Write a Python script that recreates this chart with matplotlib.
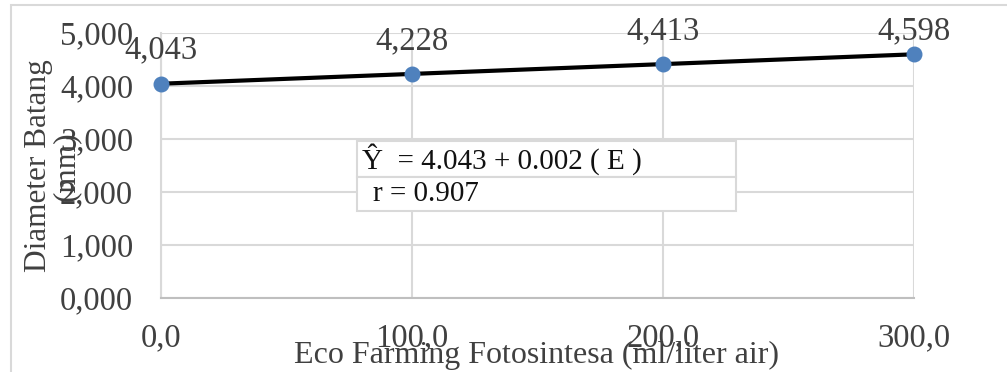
import matplotlib
matplotlib.use("Agg")
import matplotlib.pyplot as plt
from matplotlib.patches import Rectangle

# data
dose = [0, 100, 200, 300]
diameter = [4.043, 4.228, 4.413, 4.598]
y_ticks = [0, 1, 2, 3, 4, 5]
y_tick_labels = ["0,000", "1,000", "2,000", "3,000", "4,000", "5,000"]
x_tick_labels = ["0,0", "100,0", "200,0", "300,0"]
point_labels = ["4,043", "4,228", "4,413", "4,598"]
label_offsets = [13, 13, 13, 6]  # last label is squeezed by the top edge
eq_lines = ["Ŷ  = 4.043 + 0.002 ( E )", "r = 0.907"]

plt.rcParams["font.family"] = ["Liberation Serif", "DejaVu Serif"]
txt = "#404040"
grid = "#d9d9d9"

fig = plt.figure(figsize=(10.07, 3.72), dpi=100)
W, H = 1007, 372
fig.patches.append(Rectangle((11 / W, -0.1), 1.2, 1.1 - 5 / H,
                             transform=fig.transFigure, fill=False,
                             edgecolor=grid, linewidth=1.5))

ax = fig.add_axes([161 / W, 1 - 298 / H, (914 - 161) / W, (298 - 33) / H])
ax.set_xlim(0, 300)
ax.set_ylim(0, 5)
ax.set_xticks(dose)
ax.set_xticklabels(x_tick_labels)
ax.set_yticks(y_ticks)
ax.set_yticklabels(y_tick_labels)
ax.tick_params(axis="both", length=0, labelsize=23.5, labelcolor=txt)
ax.tick_params(axis="y", pad=20)
ax.tick_params(axis="x", pad=18)
ax.grid(True, color=grid, linewidth=1.5)
ax.set_axisbelow(True)
for s in ["top", "right"]:
    ax.spines[s].set_visible(False)
ax.spines["left"].set_color(grid)
ax.spines["bottom"].set_color("#bfbfbf")
ax.spines["left"].set_linewidth(1.5)
ax.spines["bottom"].set_linewidth(1.5)

ax.plot(dose, diameter, color="black", linewidth=3, zorder=3, clip_on=False)
ax.scatter(dose, diameter, s=110, color="#4f81bd", zorder=4, clip_on=False)
for x, y, lab, off in zip(dose, diameter, point_labels, label_offsets):
    ax.annotate(lab, (x, y), xytext=(0, off), textcoords="offset points",
                ha="center", va="bottom", fontsize=23.5, color=txt)

# equation box
bx0, bx1, by0, bdiv, by1 = 357, 736, 141, 177, 211
for top, bot in [(by0, bdiv), (bdiv, by1)]:
    fig.patches.append(Rectangle((bx0 / W, 1 - bot / H), (bx1 - bx0) / W,
                                 (bot - top) / H, transform=fig.transFigure,
                                 facecolor="white", edgecolor=grid,
                                 linewidth=1.5, zorder=5))
fig.text(362 / W, 1 - (by0 + bdiv) / 2 / H, eq_lines[0], fontsize=21,
         va="center", ha="left", color="#111111", zorder=6)
fig.text(373 / W, 1 - (bdiv + by1) / 2 / H, eq_lines[1], fontsize=21,
         va="center", ha="left", color="#111111", zorder=6)

fig.text(537 / W, 1 - 355 / H, "Eco Farming Fotosintesa (ml/liter air)",
         fontsize=23, color=txt, ha="center", va="center")
fig.text(52 / W, 1 - 166 / H, "Diameter Batang\n(mm)", fontsize=22.5,
         color=txt, ha="center", va="center", rotation=90,
         multialignment="center", linespacing=0.95)

fig.savefig("out.png", dpi=100)
